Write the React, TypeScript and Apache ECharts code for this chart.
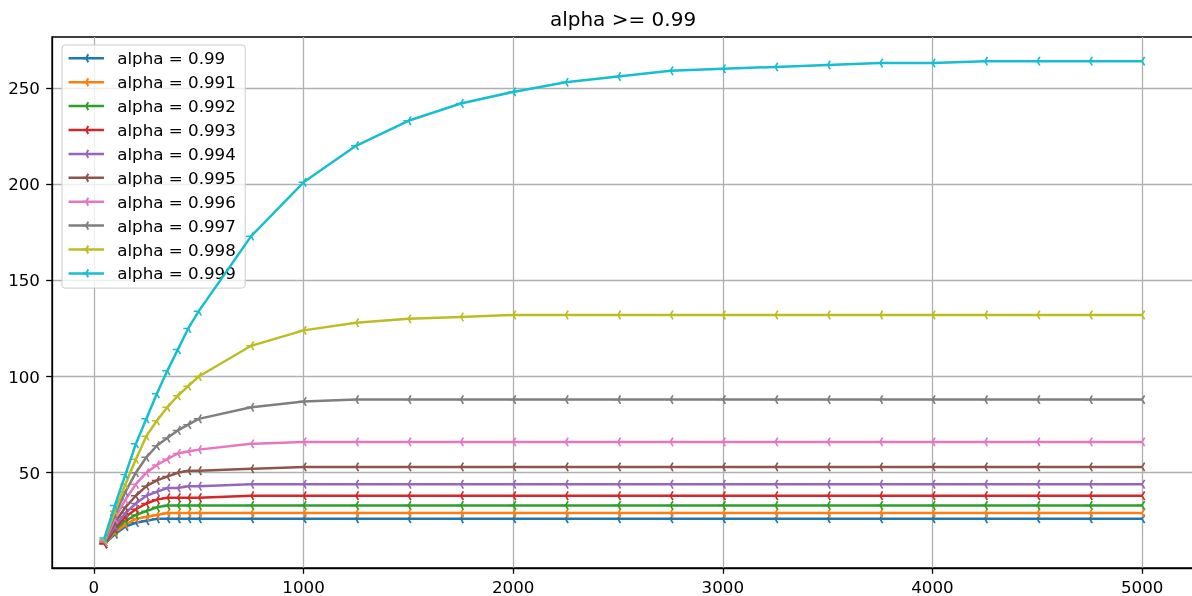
import React, { useEffect, useRef } from "react";
import * as echarts from "echarts";

const xValues = [50, 100, 150, 200, 250, 300, 350, 400, 450, 500, 750, 1000, 1250, 1500, 1750, 2000, 2250, 2500, 2750, 3000, 3250, 3500, 3750, 4000, 4250, 4500, 4750, 5000];

const seriesNames = ["alpha = 0.99", "alpha = 0.991", "alpha = 0.992", "alpha = 0.993", "alpha = 0.994", "alpha = 0.995", "alpha = 0.996", "alpha = 0.997", "alpha = 0.998", "alpha = 0.999"];

const colors = ["#1f77b4", "#ff7f0e", "#2ca02c", "#d62728", "#9467bd", "#8c564b", "#e377c2", "#7f7f7f", "#bcbd22", "#17becf"];

const a990 = [13, 18, 22, 24, 25, 26, 26, 26, 26, 26, 26, 26, 26, 26, 26, 26, 26, 26, 26, 26, 26, 26, 26, 26, 26, 26, 26, 26];
const a991 = [13, 19, 23, 26, 27, 28, 29, 29, 29, 29, 29, 29, 29, 29, 29, 29, 29, 29, 29, 29, 29, 29, 29, 29, 29, 29, 29, 29];
const a992 = [13, 20, 25, 28, 30, 32, 33, 33, 33, 33, 33, 33, 33, 33, 33, 33, 33, 33, 33, 33, 33, 33, 33, 33, 33, 33, 33, 33];
const a993 = [13, 21, 27, 31, 34, 36, 37, 37, 37, 37, 38, 38, 38, 38, 38, 38, 38, 38, 38, 38, 38, 38, 38, 38, 38, 38, 38, 38];
const a994 = [14, 22, 29, 34, 38, 40, 42, 42, 43, 43, 44, 44, 44, 44, 44, 44, 44, 44, 44, 44, 44, 44, 44, 44, 44, 44, 44, 44];
const a995 = [14, 24, 32, 38, 43, 46, 48, 50, 51, 51, 52, 53, 53, 53, 53, 53, 53, 53, 53, 53, 53, 53, 53, 53, 53, 53, 53, 53];
const a996 = [14, 26, 36, 44, 50, 54, 57, 60, 61, 62, 65, 66, 66, 66, 66, 66, 66, 66, 66, 66, 66, 66, 66, 66, 66, 66, 66, 66];
const a997 = [15, 28, 40, 50, 58, 64, 68, 72, 75, 78, 84, 87, 88, 88, 88, 88, 88, 88, 88, 88, 88, 88, 88, 88, 88, 88, 88, 88];
const a998 = [15, 30, 44, 57, 69, 77, 84, 90, 95, 100, 116, 124, 128, 130, 131, 132, 132, 132, 132, 132, 132, 132, 132, 132, 132, 132, 132, 132];
const a999 = [16, 33, 49, 65, 78, 91, 103, 114, 125, 134, 173, 201, 220, 233, 242, 248, 253, 256, 259, 260, 261, 262, 263, 263, 264, 264, 264, 264];

const allValues = [a990, a991, a992, a993, a994, a995, a996, a997, a998, a999];

const xTicks = [0, 1000, 2000, 3000, 4000, 5000];
const yTicks = [50, 100, 150, 200, 250];

const TRI_LEFT = "path://M0,0L-10,0M0,0L5,-8.66M0,0L5,8.66M10,0L10,0";

export default function App() {
  const ref = useRef<HTMLDivElement>(null);
  useEffect(() => {
    document.body.style.margin = "0";
    if (!ref.current) return;
    const chart = echarts.init(ref.current, null, { renderer: "svg" });
    const font = "DejaVu Sans";
    const series = allValues.map((vals, i) => ({
      name: seriesNames[i],
      type: "line",
      data: vals.map((v, j) => [xValues[j], v]),
      color: colors[i],
      symbol: TRI_LEFT,
      symbolSize: [10, 8.66],
      showAllSymbol: true,
      lineStyle: { width: 2.5, color: colors[i] },
      itemStyle: { color: colors[i], borderColor: colors[i], borderWidth: 1.6 },
      emphasis: { disabled: true },
      z: 2 + i,
    }));
    chart.setOption({
      animation: false,
      title: {
        text: "alpha >= 0.99",
        left: 623,
        top: 9,
        padding: 0,
        textAlign: "center",
        textStyle: { fontFamily: font, fontSize: 20, fontWeight: "normal", color: "#000" },
      },
      legend: {
        orient: "vertical",
        left: 62,
        top: 45,
        padding: [4.8, 9.3, 6.2, 5.3],
        itemWidth: 35.4,
        itemHeight: 10,
        itemGap: 6.9,
        backgroundColor: "rgba(255,255,255,0.8)",
        borderColor: "#cccccc",
        borderWidth: 1,
        borderRadius: 3,
        lineStyle: { width: 2.5 },
        textStyle: { fontFamily: font, fontSize: 16.7, color: "#000", lineHeight: 17, padding: [0, 0, 0, 8.3] },
        data: seriesNames,
      },
      grid: {
        left: 52,
        top: 37,
        width: 1150,
        height: 531,
        show: true,
        borderColor: "#000",
        borderWidth: 1.3,
        backgroundColor: "transparent",
      },
      xAxis: {
        type: "value",
        min: -200,
        max: 5285.6,
        axisLine: { show: true, onZero: false, lineStyle: { color: "#000", width: 1.3 } },
        axisTick: { show: true, length: 5.8, lineStyle: { color: "#000", width: 1.3 }, customValues: xTicks },
        axisLabel: { customValues: xTicks, margin: 10, fontFamily: font, fontSize: 16.7, color: "#000", formatter: (v: number) => String(v) },
        splitLine: { show: true, lineStyle: { color: "#b0b0b0", width: 1.3 } },
      },
      yAxis: {
        type: "value",
        min: 0.45,
        max: 276.55,
        axisLine: { show: true, onZero: false, lineStyle: { color: "#000", width: 1.3 } },
        axisTick: { show: true, length: 5.8, lineStyle: { color: "#000", width: 1.3 }, customValues: yTicks },
        axisLabel: { customValues: yTicks, margin: 12, fontFamily: font, fontSize: 16.7, color: "#000", formatter: (v: number) => String(v) },
        splitLine: { show: true, lineStyle: { color: "#b0b0b0", width: 1.3 } },
      },
      series,
    });
    return () => chart.dispose();
  }, []);
  return (
    <div style={{ position: "fixed", left: 0, top: 0, width: 1192, height: 596, overflow: "hidden" }}>
      <div ref={ref} style={{ width: 1215, height: 596 }} />
    </div>
  );
}
